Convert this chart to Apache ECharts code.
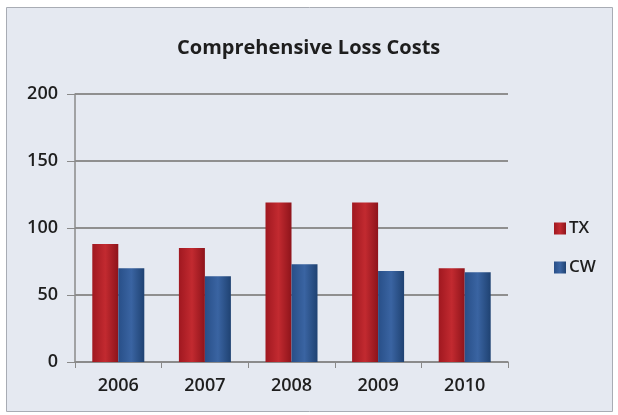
<!DOCTYPE html>
<html><head><meta charset="utf-8">
<script src="https://cdn.jsdelivr.net/npm/echarts@6/dist/echarts.min.js"></script>
<style>html,body{margin:0;padding:0;background:#fff}#c{width:618px;height:415px}</style>
</head><body><div id="c"></div>
<script>
const categories = ['2006','2007','2008','2009','2010'];
const txValues = [88, 85, 119, 119, 70];
const cwValues = [70, 64, 73, 68, 67];
const yTicks = [0, 50, 100, 150, 200];

const chart = echarts.init(document.getElementById('c'));
function grad(c1, c2, c3){
  return new echarts.graphic.LinearGradient(0,0,1,0,[{offset:0,color:c1},{offset:0.5,color:c2},{offset:1,color:c3}]);
}
chart.setOption({
  backgroundColor: '#fff',
  animation: false,
  graphic: [{type:'rect', left:6, top:7, shape:{width:606, height:404}, style:{fill:'#e5e9f1', stroke:'#a8acb4', lineWidth:1}, z:-10}],
  title: {text:'Comprehensive Loss Costs', left:172, top:33, textStyle:{fontFamily:'Open Sans', fontWeight:'bold', fontSize:20, color:'#1e1e1e'}},
  legend: {orient:'vertical', left:549, top:215, itemWidth:12, itemHeight:12, itemGap:22, icon:'rect',
    textStyle:{fontFamily:'Open Sans', fontWeight:600, fontSize:17, color:'#1e1e1e', padding:[0,0,0,-2]}, data:['TX','CW']},
  grid: {left:75, right:110, top:94, bottom:53},
  xAxis: {type:'category', data:categories,
    axisLine:{lineStyle:{color:'#8a8a8a', width:1.5}},
    axisTick:{show:true, length:6, lineStyle:{color:'#8a8a8a'}},
    axisLabel:{fontFamily:'Open Sans', fontWeight:600, fontSize:18, color:'#1e1e1e', margin:15}},
  yAxis: {type:'value', min:yTicks[0], max:yTicks[yTicks.length-1], interval:50,
    axisLine:{show:true, lineStyle:{color:'#8a8a8a', width:1.5}},
    axisTick:{show:true, length:8, inside:false, lineStyle:{color:'#8a8a8a'}},
    splitLine:{lineStyle:{color:'#8f8f8f', width:2}},
    axisLabel:{fontFamily:'Open Sans', fontWeight:600, fontSize:18, color:'#1e1e1e', margin:17}},
  series: [
    {name:'TX', type:'bar', data:txValues, barWidth:26, barGap:'0%',
      itemStyle:{color:grad('#a01820','#c22a30','#8e141b')}},
    {name:'CW', type:'bar', data:cwValues, barWidth:26,
      itemStyle:{color:grad('#284f88','#3a64a2','#1f4272')}}
  ]
});
</script></body></html>
